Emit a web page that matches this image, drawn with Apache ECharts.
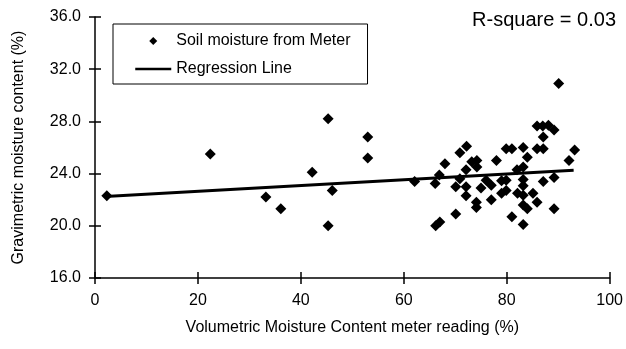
<!DOCTYPE html>
<html>
<head>
<meta charset="utf-8">
<script src="https://cdn.jsdelivr.net/npm/echarts@6/dist/echarts.min.js"></script>
<style>
  html, body { margin: 0; padding: 0; background: #fff; }
  #chart { width: 626px; height: 349px; }
</style>
</head>
<body>
<div id="chart"></div>
<script>
// meter reading (%) vs gravimetric moisture (%)
const meterReading = [
  2.3, 22.4, 33.2, 36.1, 42.2, 45.3, 45.3, 46.1, 53.0, 53.0,
  62.1, 66.1, 66.9, 67.0, 66.2, 68.0, 70.9, 72.2, 73.2, 74.2,
  74.2, 78.0, 72.1, 82.0, 83.2, 70.9, 70.1, 72.1, 72.1, 75.0,
  76.0, 77.0, 79.0, 79.9, 79.0, 79.9, 83.2, 83.2, 82.1, 83.2,
  85.1, 87.1, 89.2, 77.0, 74.1, 74.1, 83.2, 84.0, 85.9, 89.2,
  70.1, 81.0, 83.2, 79.9, 81.0, 83.2, 85.9, 87.1, 93.2, 84.0,
  92.1, 85.9, 87.0, 88.1, 89.2, 87.1, 90.1
]
const gravimetric = [
  22.3, 25.5, 22.2, 21.3, 24.1, 28.2, 20.0, 22.7, 26.8, 25.2,
  23.4, 23.25, 23.9, 20.3, 20.0, 24.75, 25.6, 26.1, 24.9, 25.0,
  24.5, 25.0, 24.3, 24.3, 24.5, 23.6, 23.0, 23.0, 22.3, 22.9,
  23.5, 23.1, 23.45, 23.5, 22.5, 22.7, 23.55, 23.06, 22.5, 22.35,
  22.5, 23.4, 23.7, 22.0, 21.8, 21.4, 21.6, 21.3, 21.8, 21.3,
  20.9, 20.7, 20.1, 25.9, 25.9, 26.0, 25.9, 25.9, 25.8, 25.25,
  25.0, 27.65, 27.65, 27.7, 27.35, 26.8, 30.9
]
const regressionX = [2, 93]
const regressionY = [22.25, 24.25]
const rSquareText = 'R-square = 0.03'

const chart = echarts.init(document.getElementById('chart'))

const axisFont = { fontFamily: 'Liberation Sans', fontSize: 16, color: '#000' }
// small diamond centred in a wide legend slot (tiny end specks fix the bounding box)
const legendDiamond = 'path://M0,4L0.01,4L0.01,4.01Z M14,4L18,0L22,4L18,8Z M35.99,4L36,4L36,4.01Z'

const option = {
  backgroundColor: '#fff',
  animation: false,
  textStyle: { fontFamily: 'Liberation Sans' },
  grid: { left: 95, right: 14, top: 17, bottom: 71 },
  legend: {
    orient: 'vertical',
    left: 113,
    top: 24,
    padding: [9, 17, 7, 21],
    itemGap: 12,
    itemWidth: 36,
    itemHeight: 8,
    borderColor: '#000',
    borderWidth: 1,
    textStyle: { fontFamily: 'Liberation Sans', fontSize: 16, color: '#000' },
    data: [
      { name: 'Soil moisture from Meter', icon: legendDiamond },
      {
        name: 'Regression Line',
        itemStyle: { color: 'rgba(0,0,0,0)', borderWidth: 0 },
        lineStyle: { color: '#000', width: 2.5 }
      }
    ]
  },
  xAxis: [
    {
      type: 'value',
      min: 0,
      max: 100,
      interval: 20,
      name: 'Volumetric Moisture Content meter reading (%)',
      nameLocation: 'middle',
      nameGap: 42,
      nameTextStyle: { fontFamily: 'Liberation Sans', fontSize: 16, color: '#000' },
      axisLine: { onZero: false, lineStyle: { color: '#000', width: 1.5 } },
      axisTick: { length: 6, lineStyle: { color: '#000', width: 1.5 } },
      axisLabel: Object.assign({ margin: 15 }, axisFont),
      splitLine: { show: false }
    },
    {
      type: 'value',
      position: 'bottom',
      min: 0,
      max: 100,
      interval: 20,
      axisLine: { show: false },
      axisTick: { inside: true, length: 6, lineStyle: { color: '#000', width: 1.5 } },
      axisLabel: { show: false },
      splitLine: { show: false }
    }
  ],
  yAxis: [
    {
      type: 'value',
      min: 16,
      max: 36,
      interval: 4,
      name: 'Gravimetric moisture content (%)',
      nameLocation: 'middle',
      nameGap: 68,
      nameTextStyle: { fontFamily: 'Liberation Sans', fontSize: 16, color: '#000' },
      axisLine: { show: true, onZero: false, lineStyle: { color: '#000', width: 1.5 } },
      axisTick: { show: true, length: 6, lineStyle: { color: '#000', width: 1.5 } },
      axisLabel: Object.assign({ margin: 14, formatter: v => v.toFixed(1) }, axisFont),
      splitLine: { show: false }
    },
    {
      type: 'value',
      position: 'left',
      min: 16,
      max: 36,
      interval: 4,
      axisLine: { show: false },
      axisTick: { show: true, inside: true, length: 6, lineStyle: { color: '#000', width: 1.5 } },
      axisLabel: { show: false },
      splitLine: { show: false }
    }
  ],
  graphic: [
    {
      type: 'text',
      right: 10,
      top: 10,
      style: { text: rSquareText, fontFamily: 'Liberation Sans', fontSize: 20, fill: '#000' }
    }
  ],
  series: [
    {
      name: 'Soil moisture from Meter',
      type: 'scatter',
      symbol: 'diamond',
      symbolSize: 11,
      itemStyle: { color: '#000', opacity: 1 },
      data: meterReading.map((x, i) => [x, gravimetric[i]])
    },
    {
      name: 'Regression Line',
      type: 'line',
      symbol: 'none',
      lineStyle: { color: '#000', width: 3 },
      itemStyle: { color: '#000' },
      data: regressionX.map((x, i) => [x, regressionY[i]])
    }
  ]
}

chart.setOption(option)
</script>
</body>
</html>
